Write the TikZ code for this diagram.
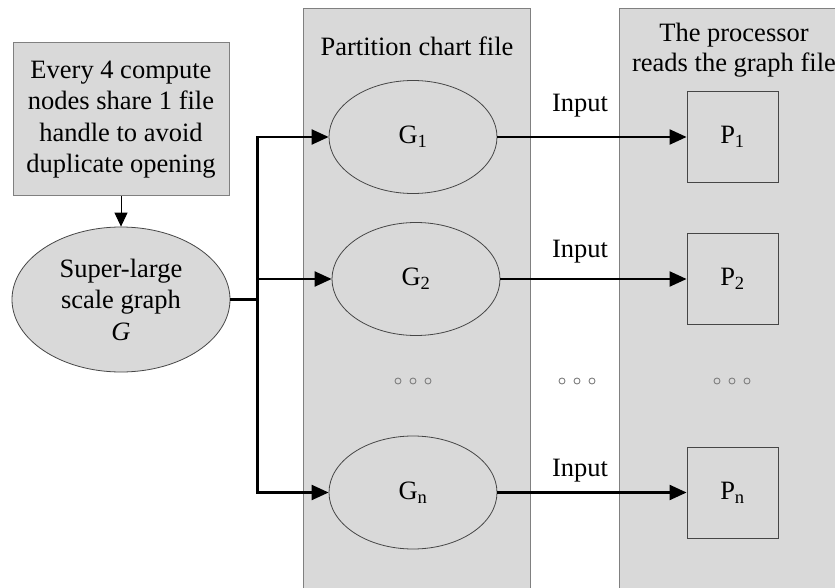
\documentclass[tikz,border=0pt]{standalone}
\usepackage{fontspec}
\setmainfont{Liberation Serif}
\usetikzlibrary{shapes.geometric,arrows.meta}

\definecolor{panelgray}{RGB}{217,217,217}
\definecolor{edgegray}{RGB}{128,128,128}
\definecolor{darkedge}{RGB}{70,70,70}

\tikzset{
  txt/.style={font=\fontsize{26.5}{31.5}\selectfont, inner sep=0pt},
  panel/.style={fill=panelgray, draw=edgegray, line width=1pt},
  gellipse/.style={txt, ellipse, fill=panelgray, draw=darkedge, line width=0.8pt,
    minimum width=168pt, minimum height=113pt, align=center},
  pbox/.style={txt, rectangle, fill=panelgray, draw=darkedge, line width=0.9pt,
    minimum width=91pt, minimum height=91pt},
  flow/.style={line width=2.2pt, -{Triangle[length=17pt,width=15pt]}},
  thinflow/.style={line width=1pt, -{Triangle[length=14pt,width=13pt]}},
  dotmark/.style={draw=edgegray, line width=0.9pt},
}

\begin{document}
\begin{tikzpicture}[x=1pt,y=-1pt]
  \clip (0,0) rectangle (835,588);
  \fill[white] (0,0) rectangle (835,588);

  % the two columns
  \draw[panel] (303,9) rectangle (530,600);
  \draw[panel] (619,9) rectangle (850,600);

  \node[txt, anchor=base] (t1) at (417,56) {Partition chart file};
  \node[txt, anchor=base] (t2a) at (734,42) {The processor};
  \node[txt, anchor=base] (t2b) at (734,72) {reads the graph file};

  % source side
  \node[txt, rectangle, fill=panelgray, draw=edgegray, line width=1pt,
        minimum width=216pt, minimum height=153pt, align=center]
        (note) at (121,119.5)
        {Every 4 compute\\nodes share 1 file\\handle to avoid\\duplicate opening};
  \node[gellipse, minimum width=218pt, minimum height=145pt] (G) at (121,299.5)
        {Super-large\\scale graph\\\textit{G}};

  % partition files
  \node[gellipse] (g1) at (413,137) {G\textsubscript{1}};
  \node[gellipse] (g2) at (416,279) {G\textsubscript{2}};
  \node[gellipse] (gn) at (413,492.5) {G\textsubscript{n}};

  % processors
  \node[pbox] (p1) at (732.5,137) {P\textsubscript{1}};
  \node[pbox] (p2) at (732.5,279) {P\textsubscript{2}};
  \node[pbox] (pn) at (732.5,492.5) {P\textsubscript{n}};

  % connectors
  \draw[thinflow] (note) -- (G);
  \draw[flow] (G.east) -- ++(27,0) |- (g1.west);
  \draw[flow] (G.east) -- ++(27,0) |- (g2.west);
  \draw[flow] (G.east) -- ++(27,0) |- (gn.west);

  \draw[flow] (g1.east) -- (p1.west);
  \draw[flow] (g2.east) -- (p2.west);
  \draw[flow] (gn.east) -- (pn.west);

  \node[txt, anchor=base] (i1) at (580,112) {Input};
  \node[txt, anchor=base] (i2) at (580,257) {Input};
  \node[txt, anchor=base] (i3) at (580,476) {Input};

  % ellipsis marks
  \foreach \cx in {413,577,732}{
    \foreach \dx in {-15,0,15}{
      \draw[dotmark] (\cx+\dx,381) circle[radius=3];
    }
  }
\end{tikzpicture}
\end{document}
